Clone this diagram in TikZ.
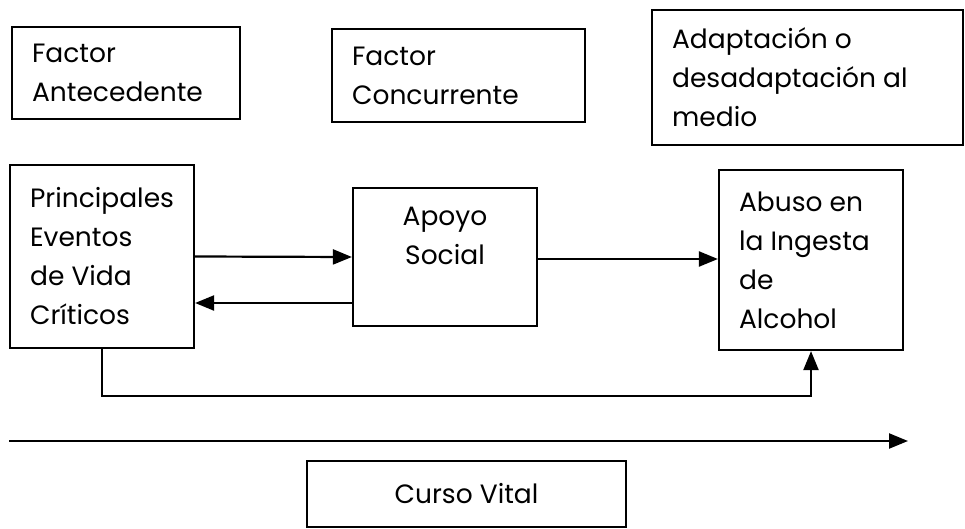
\documentclass[tikz,border=0pt]{standalone}
\usepackage{fontspec}
\setmainfont{Poppins}
\usetikzlibrary{arrows.meta,calc}
\tikzset{
  box/.style={draw, line width=2.2pt, rectangle, inner sep=0pt},
  txt/.style={inner sep=0pt, align=left, font=\fontsize{26.5}{39}\selectfont},
  ctxt/.style={inner sep=0pt, align=center, font=\fontsize{26.5}{39}\selectfont},
  arr/.style={line width=2.2pt, -{Triangle[length=19pt,width=15pt]}},
  ln/.style={line width=2.2pt}
}
\begin{document}
\begin{tikzpicture}[x=1pt,y=-1pt]
\useasboundingbox (0,0) rectangle (965,529);
% boxes
\node[box, minimum width=228pt, minimum height=92pt] (fa) at (126,73) {};
\node[box, minimum width=253pt, minimum height=93pt] (fc) at (458.5,75.5) {};
\node[box, minimum width=311pt, minimum height=135pt] (ad) at (807.5,77.5) {};
\node[box, minimum width=184pt, minimum height=183pt] (pr) at (102,256.5) {};
\node[box, minimum width=184pt, minimum height=138pt] (ap) at (445,257) {};
\node[box, minimum width=184pt, minimum height=180pt] (ab) at (811,260) {};
\node[box, minimum width=319pt, minimum height=66pt] (cv) at (466.5,494) {};
% texts
\node[txt, anchor=west] (fat) at ([xshift=21pt]fa.west) {Factor\\Antecedente};
\node[txt, anchor=west] (fct) at ([xshift=21pt]fc.west) {Factor\\Concurrente};
\node[txt, anchor=west] (adt) at ([xshift=21pt]ad.west) {Adaptación o\\desadaptación al\\medio};
\node[txt, anchor=west] (prt) at ([xshift=21pt]pr.west) {Principales\\Eventos\\de Vida\\Críticos};
\node[ctxt, anchor=north] (apt) at ([yshift=-20pt]ap.north) {Apoyo\\Social};
\node[txt, anchor=west] (abt) at ([xshift=21pt]ab.west) {Abuso en\\la Ingesta\\de\\Alcohol};
\node[ctxt] (cvt) at (cv.center) {Curso Vital};
% connectors
\path (pr.east) ++(0,46.5) coordinate (b1);
\path (ap.east) ++(0,2) coordinate (c1);
\draw[arr] (pr.east) -- (ap.west);
\draw[arr] (ap.west |- b1) -- (b1);
\draw[arr] (c1) -- (ab.west |- c1);
\draw[arr] (pr.south) -- ++(0,47) -| (ab.south);
\coordinate (ls) at (9,441);
\coordinate (le) at (908,441);
\draw[arr] (ls) -- (le);
\end{tikzpicture}
\end{document}
